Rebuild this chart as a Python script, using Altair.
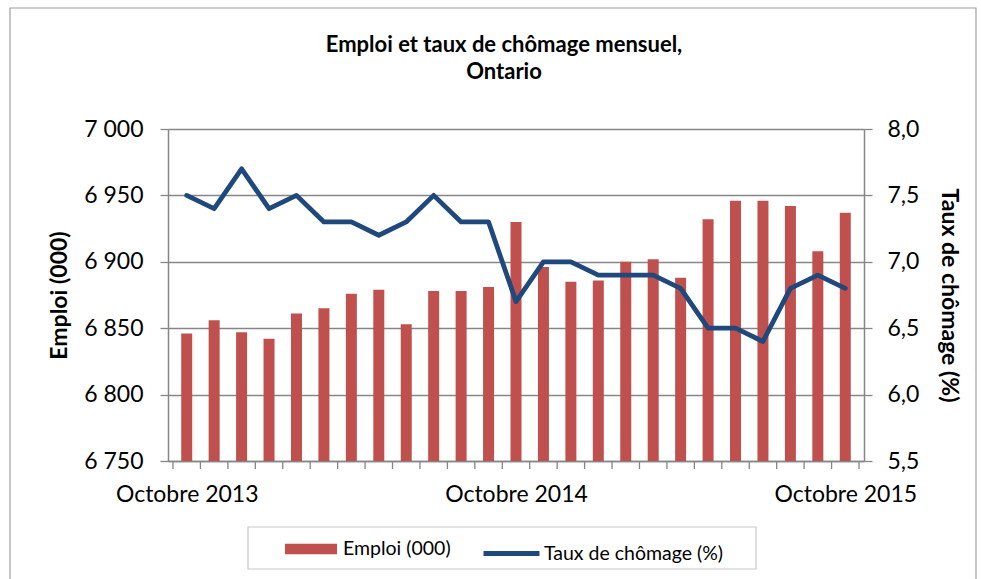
import altair as alt
import pandas as pd

mois = [
    "Octobre 2013", "Novembre 2013", "Décembre 2013", "Janvier 2014", "Février 2014",
    "Mars 2014", "Avril 2014", "Mai 2014", "Juin 2014", "Juillet 2014", "Août 2014",
    "Septembre 2014", "Octobre 2014", "Novembre 2014", "Décembre 2014", "Janvier 2015",
    "Février 2015", "Mars 2015", "Avril 2015", "Mai 2015", "Juin 2015", "Juillet 2015",
    "Août 2015", "Septembre 2015", "Octobre 2015",
]
emploi = [6846, 6856, 6847, 6842, 6861, 6865, 6876, 6879, 6853, 6878, 6878, 6881,
          6930, 6896, 6885, 6886, 6900, 6902, 6888, 6932, 6946, 6946, 6942, 6908, 6937]
taux = [7.5, 7.4, 7.7, 7.4, 7.5, 7.3, 7.3, 7.2, 7.3, 7.5, 7.3, 7.3,
        6.7, 7.0, 7.0, 6.9, 6.9, 6.9, 6.8, 6.5, 6.5, 6.4, 6.8, 6.9, 6.8]
emploi_ticks = [6750, 6800, 6850, 6900, 6950, 7000]
taux_ticks = [5.5, 6.0, 6.5, 7.0, 7.5, 8.0]
serie_emploi = "Emploi (000)"
serie_taux = "Taux de chômage (%)"

FONT = "Lato"
GRAY = "#868686"
RED = "#C0504D"
BLUE = "#1F497D"
W, H = 696, 332
TICK_FS = 23
LEG_FS = 19.5
AX_TITLE_FS = 23

df = pd.DataFrame({"idx": list(range(len(mois))), "mois": mois, "emploi": emploi, "taux": taux,
                   "s_e": serie_emploi, "s_t": serie_taux})
bounds = pd.DataFrame({"b": [i - 0.5 for i in range(len(mois) + 1)]})
one = pd.DataFrame({"a": [0]})

oct_idx = [i for i, m in enumerate(mois) if m.startswith("Octobre")]
label_expr = " : ".join(f"datum.value == {i} ? '{mois[i]}'" for i in oct_idx) + " : ''"

xscale = alt.Scale(domain=[-0.5, len(mois) - 0.5], nice=False, zero=False)
xaxis = alt.Axis(values=oct_idx, labelExpr=label_expr, ticks=False, grid=False,
                 domainColor=GRAY, domainWidth=1.5, labelFontSize=TICK_FS, labelFont=FONT,
                 labelColor="black", labelPadding=22, title=None, labelFlush=False,
                 labelOverlap=False)


def X(field):
    return alt.X(field, scale=xscale, axis=xaxis)


bars = alt.Chart(df).mark_bar(size=11).encode(
    x=X("idx:Q"),
    y=alt.Y("emploi:Q", scale=alt.Scale(domain=[6750, 7000], nice=False, zero=False, clamp=True),
            axis=alt.Axis(values=emploi_ticks,
                          labelExpr="replace(format(datum.value, ','), ',', ' ')",
                          gridColor=GRAY, gridWidth=1.3, tickColor=GRAY, tickWidth=1.3,
                          tickSize=8, domainColor=GRAY, domainWidth=1.5,
                          labelFontSize=TICK_FS, labelFont=FONT, labelColor="black",
                          labelPadding=17, title="Emploi (000)", titleFontSize=AX_TITLE_FS,
                          titleFont=FONT, titleFontWeight="bold", titleColor="black",
                          titlePadding=12)),
    fill=alt.Fill("s_e:N", scale=alt.Scale(domain=[serie_emploi], range=[RED]),
                  legend=alt.Legend(orient="none", legendX=117, legendY=394, title=None,
                                    symbolType="M-1,-0.2H1V0.2H-1Z", symbolSize=2704,
                                    symbolStrokeWidth=0, labelFontSize=LEG_FS, labelFont=FONT,
                                    labelColor="black", labelOffset=6, padding=0,
                                    labelLimit=400)),
)

ticks = alt.Chart(bounds).mark_rule(color=GRAY, strokeWidth=1.3).encode(
    x=X("b:Q"), y=alt.value(H), y2=alt.value(H + 8)
)

line = alt.Chart(df).mark_line(strokeWidth=4.8, strokeJoin="round",
                               strokeCap="round").encode(
    x=X("idx:Q"),
    y=alt.Y("taux:Q", scale=alt.Scale(domain=[5.5, 8.0], nice=False, zero=False),
            axis=alt.Axis(orient="right", values=taux_ticks,
                          labelExpr="replace(format(datum.value, '.1f'), '.', ',')",
                          grid=False, tickColor=GRAY, tickWidth=1.3, tickSize=8,
                          domainColor=GRAY, domainWidth=1.5, labelFontSize=TICK_FS,
                          labelFont=FONT, labelColor="black", labelPadding=15,
                          title="Taux de chômage (%)", titleFontSize=AX_TITLE_FS,
                          titleFont=FONT, titleFontWeight="bold", titleColor="black",
                          titlePadding=18)),
    stroke=alt.Stroke("s_t:N", scale=alt.Scale(domain=[serie_taux], range=[BLUE]),
                      legend=alt.Legend(orient="none", legendX=313, legendY=394, title=None,
                                        symbolType="stroke", symbolSize=3136,
                                        symbolStrokeWidth=5, labelFontSize=LEG_FS,
                                        labelFont=FONT, labelColor="black",
                                        labelOffset=2, padding=0, labelLimit=400)),
)

legend_box = alt.Chart(one).mark_rect(fill="transparent", stroke="#C8C8C8", strokeWidth=1.2).encode(
    x=alt.value(80), x2=alt.value(588), y=alt.value(398), y2=alt.value(440)
)
outer_box = alt.Chart(one).mark_rect(fill="transparent", stroke="#A0A0A0", strokeWidth=1.2).encode(
    x=alt.value(-158), x2=alt.value(808), y=alt.value(-121), y2=alt.value(470)
)

chart = alt.layer(outer_box, legend_box, bars, ticks, line).resolve_scale(
    y="independent"
).properties(
    width=W, height=H,
    title=alt.Title(["Emploi et taux de chômage mensuel,", "Ontario"], fontSize=22,
                    fontWeight="bold", font=FONT, color="black", anchor="middle",
                    offset=0, lineHeight=27, dx=-12, dy=77),
    autosize=alt.AutoSizeParams(type="none"),
    padding={"left": 168, "top": 129, "right": 117, "bottom": 118},
).configure_view(stroke=None).configure(background="white")

chart.save("out.html", embed_options={"renderer": "svg", "actions": False})
